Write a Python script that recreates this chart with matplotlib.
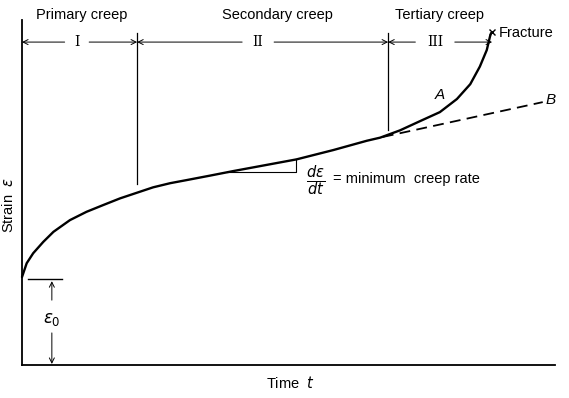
import numpy as np
import matplotlib
matplotlib.use('Agg')
import matplotlib.pyplot as plt

# creep curve (time, strain), arbitrary units 0-100
time_a = [0, 0.88, 2.1, 4.0, 5.9, 9.0, 12.1, 15.3, 18.4, 21.5, 24.6, 27.8,
          30.9, 35.3, 39.6, 45.9, 51.5, 58.4, 64.7, 67.2, 70.9, 74.7, 78.4,
          81.6, 84.1, 85.9, 87.2, 87.8, 88.0]
strain_a = [25.5, 29.5, 32.4, 35.7, 38.6, 42.0, 44.4, 46.4, 48.3, 49.9, 51.5,
            52.7, 53.6, 54.9, 56.2, 58.0, 59.6, 62.3, 65.0, 65.9, 68.0, 70.7,
            73.3, 77.1, 81.4, 86.5, 91.3, 95.2, 96.2]

# curve B: steady-state extrapolation (dashed)
time_b = [67.7, 97.7]
strain_b = [66.1, 76.2]

eps0 = 24.9                 # instantaneous strain
t_primary_end = 21.6        # end of stage I
t_secondary_end = 68.7      # end of stage II
t_fracture = 88.2
strain_fracture = 96.5

stage_names = ['Primary creep', 'Secondary creep', 'Tertiary creep']
stage_numerals = ['I', 'II', 'III']

plt.rcParams['font.family'] = ['Liberation Sans', 'DejaVu Sans']
fig = plt.figure(figsize=(5.69, 3.98), dpi=100)
ax = fig.add_axes([22 / 569, 33 / 398, 533 / 569, 345 / 398])
ax.set_xlim(0, 100)
ax.set_ylim(0, 100)
for side in ['top', 'right']:
    ax.spines[side].set_visible(False)
ax.spines['left'].set_linewidth(1.3)
ax.spines['bottom'].set_linewidth(1.3)
ax.set_xticks([])
ax.set_yticks([])

# curves
ax.plot(time_a, strain_a, color='black', lw=1.7, solid_capstyle='round',
        solid_joinstyle='round', clip_on=False)
ax.plot(time_b, strain_b, color='black', lw=1.3, dashes=(6, 3.5))
ax.text(78.4, 78.3, 'A', style='italic', fontsize=11, ha='center', va='center')
ax.text(99.1, 76.8, 'B', style='italic', fontsize=11, ha='center', va='center', clip_on=False)

# stage boundaries
ax.plot([t_primary_end, t_primary_end], [52.5, 96.2], color='black', lw=0.9, clip_on=False)
ax.plot([t_secondary_end, t_secondary_end], [68.1, 96.2], color='black', lw=0.9, clip_on=False)

# stage labels and arrows
name_x = [11.2, 47.9, 78.3]
num_x = [10.3, 44.3, 77.5]
bounds = [(0, t_primary_end), (t_primary_end, t_secondary_end), (t_secondary_end, t_fracture)]
arrow_s = 93.6
for name, nx, num, ux, (lo, hi) in zip(stage_names, name_x, stage_numerals, num_x, bounds):
    ax.text(nx, 101.4, name, fontsize=10.5, ha='center', va='center', clip_on=False)
    ax.text(ux, arrow_s, num, fontsize=10, ha='center', va='center', family='DejaVu Serif')
    pad = 1.6 + 0.7 * len(num)
    for end, start in [(lo, ux - pad), (hi, ux + pad)]:
        ax.annotate('', xy=(end, arrow_s), xytext=(start, arrow_s),
                    arrowprops=dict(arrowstyle='->', lw=0.7, color='black',
                                    shrinkA=0, shrinkB=0, mutation_scale=9))

# fracture mark
ax.plot([t_fracture], [strain_fracture], marker='x', color='black', ms=5, mew=1.0, clip_on=False)
ax.text(89.5, 96.2, 'Fracture', fontsize=10.5, ha='left', va='center', clip_on=False)

# minimum creep rate triangle
ax.plot([38.5, 51.5, 51.5], [55.9, 55.9, 59.6], color='black', lw=0.8)
ax.text(55.0, 53.4, r'$\frac{d\epsilon}{dt}$', fontsize=15, ha='center', va='center')
ax.text(58.3, 53.9, '= minimum  creep rate', fontsize=10.5, ha='left', va='center')

# instantaneous strain eps0
ax.plot([1.1, 7.5], [eps0, eps0], color='black', lw=1.0)
ax.annotate('', xy=(5.6, 24.3), xytext=(5.6, 18.8),
            arrowprops=dict(arrowstyle='->', lw=0.7, color='black',
                            shrinkA=0, shrinkB=0, mutation_scale=9))
ax.annotate('', xy=(5.6, 0.3), xytext=(5.6, 9.3),
            arrowprops=dict(arrowstyle='->', lw=0.7, color='black',
                            shrinkA=0, shrinkB=0, mutation_scale=9))
ax.text(5.6, 13.2, r'$\epsilon_0$', fontsize=12, ha='center', va='center')

# axis labels
ax.text(-2.6, 46.4, r'Strain  $\epsilon$', fontsize=10.5, rotation=90,
        ha='center', va='center', clip_on=False)
ax.text(50.3, -5.2, r'Time  $t$', fontsize=10.5, ha='center', va='center', clip_on=False)

fig.savefig('out.png', dpi=100, facecolor='white')
